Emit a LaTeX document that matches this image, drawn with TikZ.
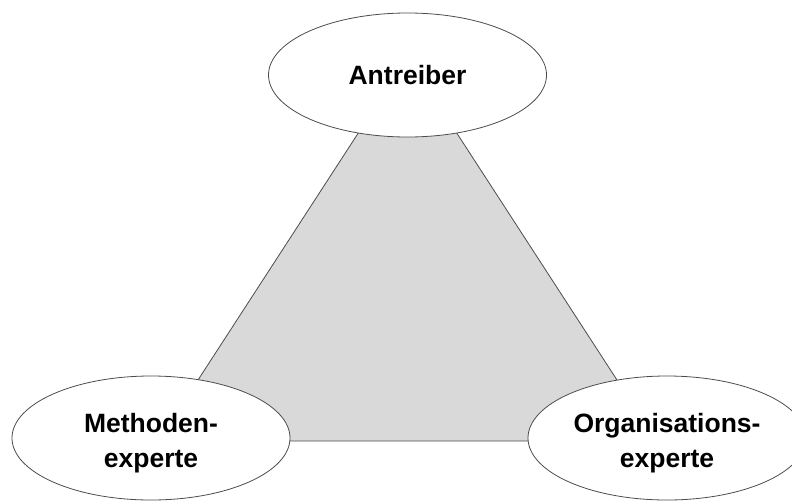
\documentclass[tikz,border=0pt]{standalone}
\usepackage{fontspec}
\setmainfont{Liberation Sans}
\usetikzlibrary{shapes.geometric}
\begin{document}
\begin{tikzpicture}[x=1pt,y=-1pt,
  role/.style={ellipse, draw=black!70, line width=0.8pt, fill=white,
    minimum width=278pt, minimum height=124pt, inner sep=0pt},
  label/.style={align=center, inner sep=0pt,
    font=\fontsize{26.5}{35}\selectfont\bfseries},
  area/.style={fill=black!15, draw=black!70, line width=0.8pt}]
\useasboundingbox (0,0) rectangle (792,501);
\draw[area] (379.7,100) -- (435.3,100) -- (656.6,441) -- (158.4,441) -- cycle;
\node[role] (a) at (407.5,75) {};
\node[role] (m) at (151,438) {};
\node[role] (o) at (667,438) {};
\node[label] (ta) at (a.center) {Antreiber};
\node[label] (tm) at ([yshift=-5pt]m.center) {Methoden-\\experte};
\node[label] (to) at ([yshift=-5pt]o.center) {Organisations-\\experte};
\end{tikzpicture}
\end{document}
